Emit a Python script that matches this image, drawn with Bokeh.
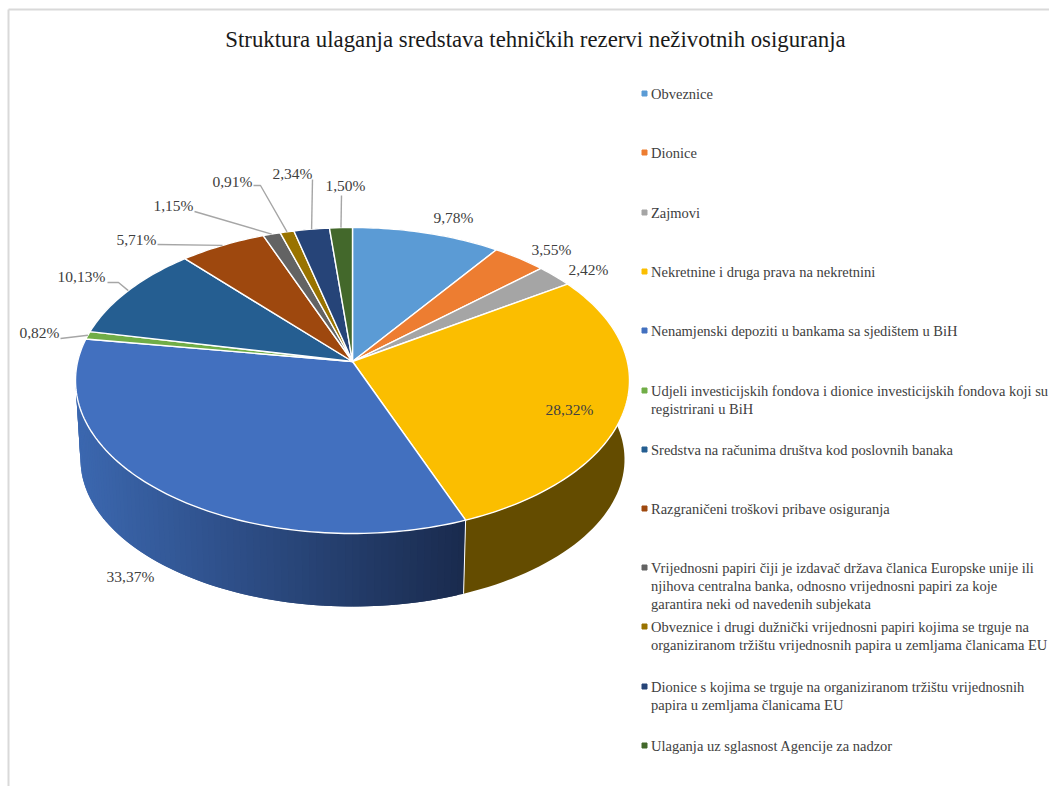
from bokeh.plotting import figure
from bokeh.models import ColumnDataSource, Range1d
from bokeh.core.properties import value
from bokeh.embed import file_html
from bokeh.resources import INLINE
import numpy as np

# ---------- data ----------
categories = [
    "Obveznice", "Dionice", "Zajmovi", "Nekretnine i druga prava na nekretnini",
    "Nenamjenski depoziti u bankama sa sjedištem u BiH",
    "Udjeli investicijskih fondova i dionice investicijskih fondova koji su\nregistrirani u BiH",
    "Sredstva na računima društva kod poslovnih banaka",
    "Razgraničeni troškovi pribave osiguranja",
    "Vrijednosni papiri čiji je izdavač država članica Europske unije ili\nnjihova centralna banka, odnosno vrijednosni papiri za koje\ngarantira neki od navedenih subjekata",
    "Obveznice i drugi dužnički vrijednosni papiri kojima se trguje na\norganiziranom tržištu vrijednosnih papira u zemljama članicama EU",
    "Dionice s kojima se trguje na organiziranom tržištu vrijednosnih\npapira u zemljama članicama EU",
    "Ulaganja uz sglasnost Agencije za nadzor",
]
shares = [9.78, 3.55, 2.42, 28.32, 33.37, 0.82, 10.13, 5.71, 1.15, 0.91, 2.34, 1.50]
colors = ["#5B9BD5", "#ED7D31", "#A5A5A5", "#FBBE00", "#4270BF", "#70AD47",
          "#255E91", "#9E480E", "#636363", "#997300", "#264478", "#43682B"]
title = "Struktura ulaganja sredstava tehničkih rezervi neživotnih osiguranja"

# ---------- layout ----------
FONT = value("Liberation Serif")
W, H = 1049, 786
TOP = dict(cx=352.0, cy=380.0, rx=277.0, ry=153.0)
BOT = dict(cx=352.0, cy=459.0, rx=272.0, ry=147.0)
K = 0.124  # perspective shift of the pie centre
label_xy = [(453, 217), (551, 249), (588, 269), (569, 409), (130, 576), (39, 332),
            (81, 276), (136, 239), (173, 205), (232, 181), (292, 173), (345, 185)]
leader_via = {5: [(60, 338)], 6: [(107, 282), (118, 282)], 7: [(157, 244)], 8: [(194, 211)],
              9: [(253, 185), (260, 185)], 10: [(312, 179)], 11: [(341, 195)]}
legend_y = [93.3, 152.3, 212.3, 271.3, 330.3, 390.3, 449.3, 508.3, 567.3, 626.3, 686.3, 745.3]
LEG_LH = 18.3


def rim(frac, e):
    t = np.asarray(frac) * 2 * np.pi
    sx, cy_ = np.sin(t), np.cos(t)
    d = 1 + K * cy_
    x = sx * np.sqrt(1 - K ** 2) / d
    y = (cy_ + K) / d
    return e["cx"] + e["rx"] * x, e["cy"] - e["ry"] * y


apex = (TOP["cx"], TOP["cy"] - TOP["ry"] * K)
fr = np.cumsum([0] + shares) / sum(shares)

p = figure(width=W, height=H, output_backend="svg", toolbar_location=None,
           x_range=Range1d(0, W), y_range=Range1d(H, 0),
           min_border=0, outline_line_color=None, background_fill_color="white")
p.axis.visible = False
p.grid.visible = False

# frame
p.line([8, 8], [H, 9], line_color="#D9D9D9", line_width=2)
p.line([8, W], [9, 9], line_color="#D9D9D9", line_width=2)

# side walls
sx_, sy_, sc_ = [], [], []
L, R = np.array([60, 104, 176]), np.array([26, 43, 78])
for i in range(len(shares)):
    base = np.array([int(colors[i][j:j + 2], 16) for j in (1, 3, 5)])
    if i == 4:  # the big front wall carries a dark-to-light shading
        n = 90
        f = np.linspace(fr[i], fr[i + 1], n + 1)
        tx, ty = rim(f, TOP)
        bx, by = rim(f, BOT)
        for j in range(n):
            e = min(j + 2, n)
            sx_.append([tx[j], tx[e], bx[e], bx[j]])
            sy_.append([ty[j], ty[e], by[e], by[j]])
            m = (tx[j] + tx[j + 1] - 2 * (TOP["cx"] - TOP["rx"])) / (2 * 390)
            c = L + (R - L) * np.clip(m, 0, 1)
            sc_.append("#%02x%02x%02x" % tuple(int(v) for v in c))
    else:
        f = np.linspace(fr[i], fr[i + 1], 60)
        tx, ty = rim(f, TOP)
        bx, by = rim(f, BOT)
        sx_.append(list(tx) + list(bx[::-1]))
        sy_.append(list(ty) + list(by[::-1]))
        sc_.append("#%02x%02x%02x" % tuple(int(v) for v in base * 0.4))
p.patches("xs", "ys", source=ColumnDataSource(dict(xs=sx_, ys=sy_, c=sc_)),
          fill_color="c", line_color=None)
# wall edge between the two visible front walls
ex, ey = rim(fr[4], TOP), rim(fr[4], BOT)
p.line([ex[0], ey[0]], [ex[1], ey[1]], line_color="white", line_width=1)

# top faces
xs, ys = [], []
for i in range(len(shares)):
    n = max(3, int(shares[i] * 3))
    rx_, ry_ = rim(np.linspace(fr[i], fr[i + 1], n + 1), TOP)
    xs.append([apex[0]] + list(rx_))
    ys.append([apex[1]] + list(ry_))
p.patches(xs, ys, fill_color=colors, line_color="white", line_width=1.4, line_join="round")

# leaders
for i, via in leader_via.items():
    mx, my = rim((fr[i] + fr[i + 1]) / 2, TOP)
    p.line([q[0] for q in via] + [float(mx)], [q[1] for q in via] + [float(my)],
           line_color="#A6A6A6", line_width=1.4)

# data labels
lab = [("%.2f%%" % s).replace(".", ",") for s in shares]
p.text([q[0] for q in label_xy], [q[1] for q in label_xy], text=lab, text_font=FONT,
       text_font_size="15.5px", text_color="#404040", text_align="center", text_baseline="middle")

# legend
p.scatter([644] * len(colors), [y - 0.3 for y in legend_y], marker="square", size=5,
          fill_color=colors, line_color=colors)
tx_, ty_, tt_ = [], [], []
for c, y in zip(categories, legend_y):
    for k, line in enumerate(c.split("\n")):
        tx_.append(650.5)
        ty_.append(y + k * LEG_LH)
        tt_.append(line)
p.text(tx_, ty_, text=tt_, text_font=FONT, text_font_size="14.5px", text_color="#404040",
       text_align="left", text_baseline="middle")

# title
p.text([535], [39], text=[title], text_font=FONT, text_font_size="22.8px", text_color="#1a1a1a",
       text_align="center", text_baseline="middle")

open("out.html", "w").write(file_html(p, INLINE))
